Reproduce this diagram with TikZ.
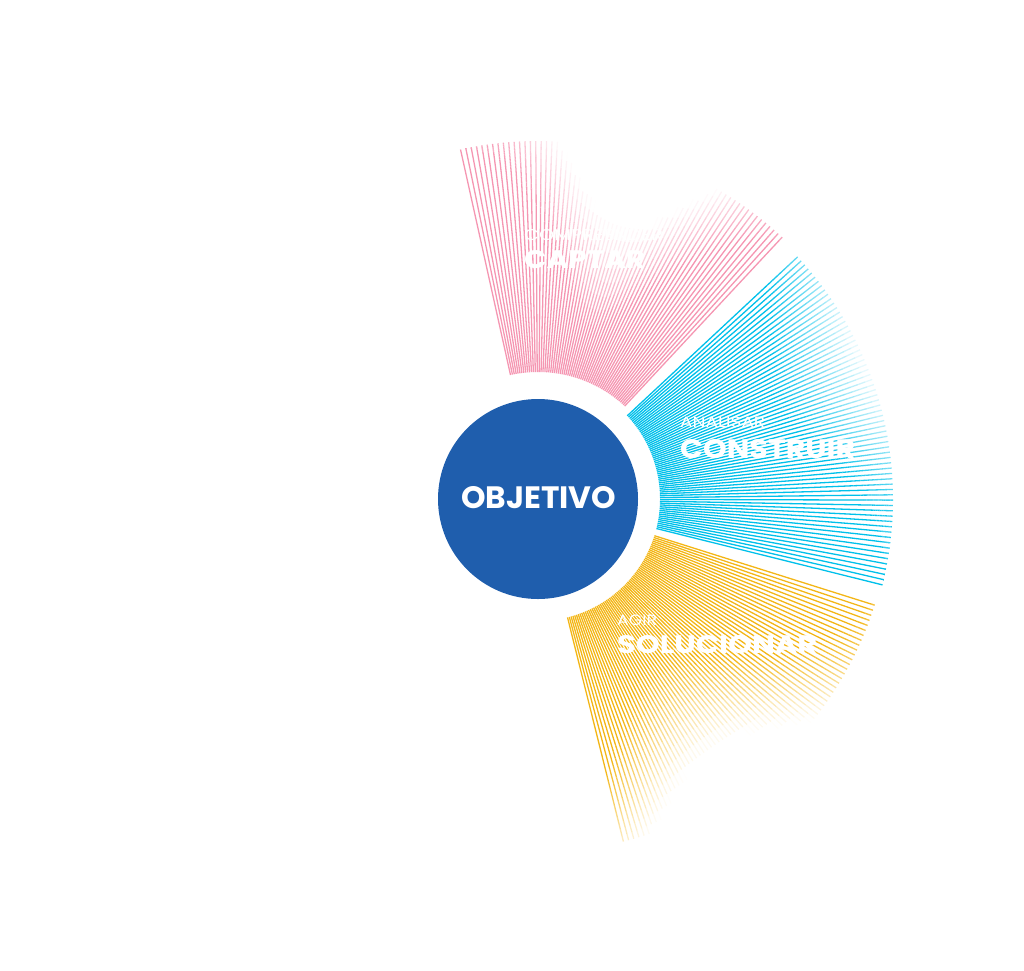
\documentclass[tikz,border=0pt]{standalone}
\usepackage{fontspec}
\setmainfont{Poppins}
\usepackage{graphicx}
\definecolor{objblue}{RGB}{31,94,173}
\definecolor{fanpink}{RGB}{245,150,178}
\definecolor{fancyan}{RGB}{0,192,234}
\definecolor{fanyellow}{RGB}{243,182,22}
\tikzset{
  ray/.style={line width=1.3pt, line cap=butt},
  lbl/.style={anchor=north west, inner sep=0pt, text=white},
}
% #1 colour, #2 start angle, #3 span (clockwise), #4 inner r, #5 outer r,
% #6 fade amplitude, #7 s, #8 o, #9 number of rays-1
\newcommand{\myfan}[9]{%
  \foreach \i in {0,...,#9} {
    \pgfmathsetmacro\tt{\i/#9}
    \pgfmathsetmacro\aa{#2-\tt*#3}
    \pgfmathsetmacro\ss{sin(180*(#7*\tt+#8))}
    \pgfmathsetmacro\LL{#6*\ss*\ss}
    \pgfmathsetmacro\rone{#5-\LL}
    \draw[ray, color=#1] ({#4*cos(\aa)},{-#4*sin(\aa)}) -- ({\rone*cos(\aa)},{-\rone*sin(\aa)});
    \foreach \k in {0,...,11} {
      \pgfmathsetmacro\ra{\rone+\k*\LL/12}
      \pgfmathsetmacro\rb{\rone+(\k+1)*\LL/12}
      \pgfmathsetmacro\al{max(0,1-(\k+0.5)*\LL/12/100)}
      \draw[ray, color=#1, draw opacity=\al] ({\ra*cos(\aa)},{-\ra*sin(\aa)}) -- ({\rb*cos(\aa)},{-\rb*sin(\aa)});
    }
  }%
}
\begin{document}
\begin{tikzpicture}[x=1pt,y=-1pt]
\useasboundingbox (0,0) rectangle (1024,970);
\begin{scope}[shift={(538,499)}]
  \myfan{fanpink}{102.5}{55.5}{127}{358}{175}{0.95}{0}{64}
  \myfan{fancyan}{43}{57}{122}{355}{95}{0.77}{0.23}{66}
  \myfan{fanyellow}{-17.5}{58.5}{122}{353}{150}{0.7}{0.05}{67}
\end{scope}
\node[circle, fill=objblue, minimum size=200pt, inner sep=0pt] (obj) at (538,499) {};
\node[anchor=center, inner sep=0pt, text=white] (objtxt) at (538.5,498) {\resizebox{155pt}{22pt}{\bfseries OBJETIVO}};
\node[lbl] (l1a) at (524,229) {\resizebox{139pt}{11pt}{COMPREENDER}};
\node[lbl] (l1b) at (524,250) {\resizebox{121pt}{18pt}{\bfseries CAPTAR}};
\node[lbl] (l2a) at (680,417) {\resizebox{85pt}{10.5pt}{ANALISAR}};
\node[lbl] (l2b) at (680,439) {\resizebox{175pt}{19pt}{\bfseries CONSTRUIR}};
\node[lbl] (l3a) at (617,615) {\resizebox{40pt}{10.5pt}{AGIR}};
\node[lbl] (l3b) at (617,635) {\resizebox{200pt}{18pt}{\bfseries SOLUCIONAR}};
\end{tikzpicture}
\end{document}
